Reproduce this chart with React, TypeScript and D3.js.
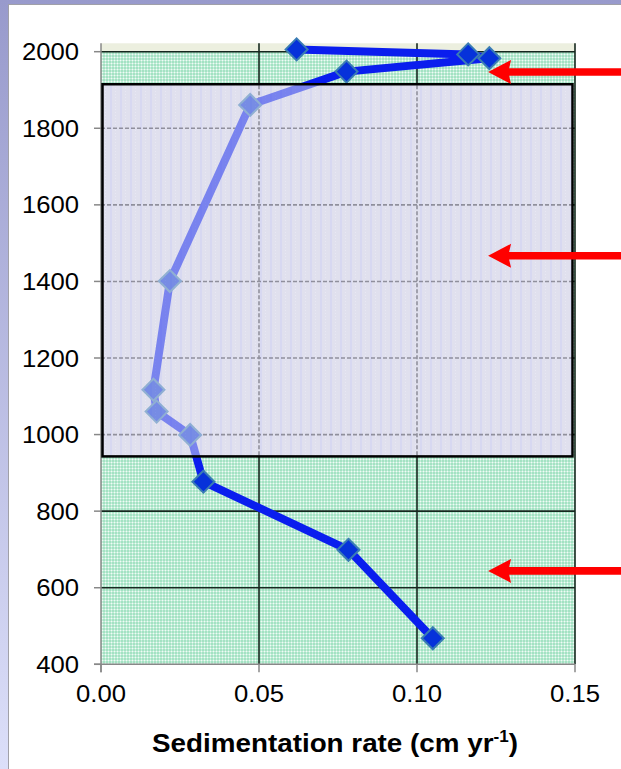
import React from 'react';
import * as d3 from 'd3';

// sediment core: year vs sedimentation rate (cm/yr)
const years = [2006, 1993, 1983, 1948, 1861, 1401, 1117, 1060, 999, 877, 699, 468];
const rates = [0.0619, 0.1162, 0.1229, 0.0777, 0.0472, 0.0218, 0.0166, 0.0176, 0.0282, 0.0324, 0.0783, 0.105];

const yTicks = [400, 600, 800, 1000, 1200, 1400, 1600, 1800, 2000];
const xTicks = [0, 0.05, 0.1, 0.15];
const xTickLabels = ['0.00', '0.05', '0.10', '0.15'];

// shaded periods (years)
const boxPeriod = [943, 1915];
const topYear = 2022;
const arrowYears = [1947, 1467, 644];
const arrowRate = 0.1225;

const W = 621, H = 769;
const font = '"Liberation Sans", Arial, sans-serif';

export default function App() {
  const x = d3.scaleLinear().domain([0, 0.15]).range([101, 575]);
  const y = d3.scaleLinear().domain([400, 2000]).range([664.3, 51.7]);

  const pts = years.map((yr, i) => ({ yr, r: rates[i] }));
  const line = d3.line<{ yr: number; r: number }>()
    .x(d => x(d.r))
    .y(d => y(d.yr));

  const left = x(0), right = x(0.15);
  const top = y(topYear), bottom = y(400);
  const boxTop = y(boxPeriod[1]), boxBot = y(boxPeriod[0]);
  const boxL = left + 1.5, boxR = right - 2.5;
  const inBox = (yr: number) => yr > boxPeriod[0] && yr < boxPeriod[1];

  const diamond = (cx: number, cy: number, s = 11) =>
    `M${cx},${cy - s}L${cx + s},${cy}L${cx},${cy + s}L${cx - s},${cy}Z`;

  const stretch = 1.07;

  return (
    <svg width={W} height={H} style={{ position: 'absolute', left: 0, top: 0 }}>
      <defs>
        <linearGradient id="frame" x1="0" y1="0" x2="0" y2="1">
          <stop offset="0" stopColor="#989acc" />
          <stop offset="1" stopColor="#dcdff9" />
        </linearGradient>
        <pattern id="grn" width="3" height="3" patternUnits="userSpaceOnUse">
          <rect width="3" height="3" fill="#a4e2c3" />
          <rect width="3" height="1" fill="#c6eedb" />
          <rect width="1" height="3" fill="#c6eedb" />
          <rect width="1" height="1" fill="#f2fbf6" />
        </pattern>
        <pattern id="lav" width="10" height="3" patternUnits="userSpaceOnUse">
          <rect width="10" height="3" fill="#e0e0ee" />
          <rect x="0" width="2" height="3" fill="#d7d8f1" />
          <rect x="5" y="1" width="1" height="1" fill="#e8e8f4" />
        </pattern>
        <clipPath id="boxclip">
          <rect x={boxL} y={boxTop} width={boxR - boxL} height={boxBot - boxTop} />
        </clipPath>
      </defs>

      {/* outer frame */}
      <rect x={0} y={0} width={W} height={H} fill="url(#frame)" />
      <rect x={8.5} y={4.5} width={W} height={H} fill="#fff" stroke="#a0a0a8" />

      {/* plot backgrounds */}
      <rect x={left} y={top} width={right - left} height={bottom - top} fill="#ecefdf" />
      <rect x={left} y={y(2000)} width={right - left} height={bottom - y(2000)} fill="url(#grn)" />

      {/* solid grid (green areas) */}
      {xTicks.slice(1).map(t => (
        <line key={'vx' + t} x1={x(t)} x2={x(t)} y1={top} y2={bottom} stroke="#16281f" strokeWidth={1.6} />
      ))}
      {yTicks.slice(1).map(t => (
        <line key={'hy' + t} x1={left} x2={right} y1={y(t)} y2={y(t)} stroke="#16281f" strokeWidth={1.6} />
      ))}

      {/* lavender period box */}
      <rect x={boxL} y={boxTop} width={boxR - boxL} height={boxBot - boxTop} fill="url(#lav)" />
      <g clipPath="url(#boxclip)">
        {xTicks.slice(1).map(t => (
          <line key={'dx' + t} x1={x(t)} x2={x(t)} y1={top} y2={bottom} stroke="#3a3a44" strokeWidth={1.6} strokeDasharray="4 2" />
        ))}
        {yTicks.filter(inBox).map(t => (
          <line key={'dy' + t} x1={left} x2={right} y1={y(t)} y2={y(t)} stroke="#3a3a44" strokeWidth={1.6} strokeDasharray="4 2" />
        ))}
      </g>

      {/* axes */}
      <line x1={left} x2={left} y1={top} y2={bottom + 8} stroke="#888" strokeWidth={1.5} />
      <line x1={left - 7} x2={right} y1={bottom} y2={bottom} stroke="#888" strokeWidth={1.5} />
      {yTicks.map(t => (
        <line key={'yt' + t} x1={left - 7} x2={left} y1={y(t)} y2={y(t)} stroke="#888" strokeWidth={1.5} />
      ))}
      {xTicks.map(t => (
        <line key={'xt' + t} x1={x(t)} x2={x(t)} y1={bottom} y2={bottom + 8} stroke="#888" strokeWidth={1.5} />
      ))}

      {/* data */}
      <path d={line(pts) || ''} fill="none" stroke="#0a1eee" strokeWidth={8} strokeLinejoin="round" />
      {pts.map((d, i) => (
        <path key={'m' + i} d={diamond(x(d.r), y(d.yr))} fill="#0632da" stroke="#3a7cb4" strokeWidth={2} />
      ))}

      {/* translucent overlay for the middle period */}
      <rect x={boxL} y={boxTop} width={boxR - boxL} height={boxBot - boxTop} fill="url(#lav)" opacity={0.52} />
      <rect x={boxL} y={boxTop} width={boxR - boxL} height={boxBot - boxTop} fill="none" stroke="#000" strokeWidth={2.5} />

      {/* tick labels */}
      {yTicks.map(t => (
        <text key={'yl' + t} transform={`translate(79,${y(t) + 8.5}) scale(${stretch},1)`}
          textAnchor="end" fontFamily={font} fontSize={24} fill="#000">{t}</text>
      ))}
      {xTicks.map((t, i) => (
        <text key={'xl' + t} transform={`translate(${x(t)},702) scale(${stretch},1)`}
          textAnchor="middle" fontFamily={font} fontSize={24} fill="#000">{xTickLabels[i]}</text>
      ))}
      <text transform={`translate(${(left + right) / 2 - 3},752) scale(${stretch},1)`}
        textAnchor="middle" fontFamily={font} fontSize={26} fontWeight="bold" fill="#000">
        Sedimentation rate (cm yr<tspan fontSize={16} dy={-10}>-1</tspan><tspan dy={10}>)</tspan>
      </text>

      {/* arrows */}
      {arrowYears.map(a => {
        const tx = x(arrowRate), ty = y(a);
        const d = `M${tx},${ty}L${tx + 23},${ty - 12}L${tx + 21},${ty - 3.8}L${W + 5},${ty - 3.8}` +
          `L${W + 5},${ty + 3.8}L${tx + 21},${ty + 3.8}L${tx + 23},${ty + 12}Z`;
        return <path key={'a' + a} d={d} fill="#ff0000" />;
      })}
    </svg>
  );
}
